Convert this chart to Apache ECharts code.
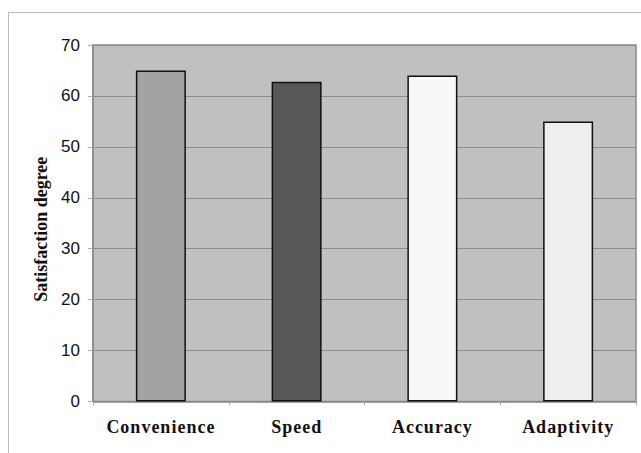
<!DOCTYPE html>
<html>
<head>
<meta charset="utf-8">
<script src="https://cdn.jsdelivr.net/npm/echarts@6/dist/echarts.min.js"></script>
<style>
  html, body { margin: 0; padding: 0; background: #fff; }
  #chart { width: 641px; height: 453px; }
</style>
</head>
<body>
<div id="chart"></div>
<script>
// Satisfaction survey results per quality aspect
const categories = ['Convenience', 'Speed', 'Accuracy', 'Adaptivity'];
const satisfaction = [65, 62.8, 64, 55];
const barColors = ['#a3a3a3', '#575757', '#f8f8f8', '#eeeeee'];
const yTicks = { min: 0, max: 70, step: 10 };
const yAxisTitle = 'Satisfaction degree';

const SERIF = 'Liberation Serif';
const SANS = 'Liberation Sans';

const chart = echarts.init(document.getElementById('chart'), null, { renderer: 'svg' });

chart.setOption({
  animation: false,
  backgroundColor: '#ffffff',
  graphic: [{
    type: 'rect',
    shape: { x: 8.5, y: 12.5, width: 700, height: 500 },
    style: { fill: 'none', stroke: '#bdbdbd', lineWidth: 1 },
    silent: true,
    z: -10
  }],
  grid: {
    left: 93, top: 45, right: 5, bottom: 51.5,
    show: true,
    backgroundColor: '#c0c0c0',
    borderColor: '#8a8a8a',
    borderWidth: 1.5
  },
  xAxis: {
    type: 'category',
    data: categories,
    axisLine: { show: true, lineStyle: { color: '#8a8a8a', width: 1.5 } },
    axisTick: { show: true, length: 4, lineStyle: { color: '#b0b0b0' } },
    axisLabel: {
      margin: 16,
      fontFamily: SERIF,
      fontWeight: 'bold',
      fontSize: 18,
      color: '#111'
    }
  },
  yAxis: {
    type: 'value',
    min: yTicks.min,
    max: yTicks.max,
    interval: yTicks.step,
    name: yAxisTitle,
    nameLocation: 'middle',
    nameGap: 43,
    nameTextStyle: {
      fontFamily: SERIF,
      fontWeight: 'bold',
      fontSize: 18,
      color: '#111',
      padding: [0, 12, 0, 0]
    },
    axisLine: { show: true, lineStyle: { color: '#8a8a8a', width: 1.5 } },
    axisTick: { show: true, length: 5, lineStyle: { color: '#b0b0b0' } },
    axisLabel: {
      margin: 13,
      fontFamily: SANS,
      fontSize: 17,
      color: '#111'
    },
    splitLine: { show: true, lineStyle: { color: '#8c8c8c', width: 1 } }
  },
  series: [{
    type: 'bar',
    barWidth: 50,
    data: satisfaction.map((v, i) => ({
      value: v,
      itemStyle: { color: barColors[i], borderColor: '#111', borderWidth: 1.5 }
    }))
  }]
});

// widen the category labels a little, as in printed charts
function spaceLabels() {
  document.querySelectorAll('#chart text').forEach(t => {
    if (categories.includes(t.textContent.trim())) {
      t.setAttribute('letter-spacing', '1');
    }
  });
}
chart.on('finished', spaceLabels);
spaceLabels();
</script>
</body>
</html>
